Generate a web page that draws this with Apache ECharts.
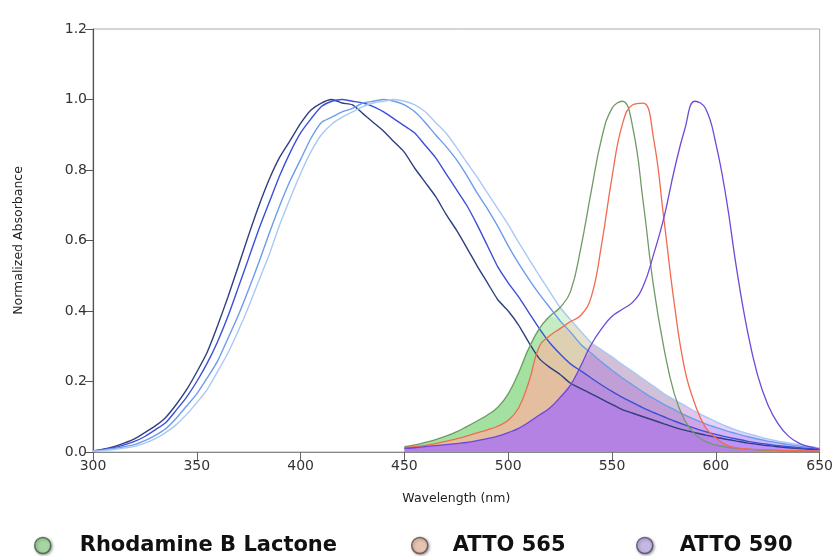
<!DOCTYPE html>
<html><head><meta charset="utf-8">
<script src="https://cdn.jsdelivr.net/npm/echarts@6/dist/echarts.min.js"></script>
<style>html,body{margin:0;padding:0;background:#fff}#c{width:836px;height:556px}</style>
</head><body><div id="c"></div>
<script>
// wavelength grids (nm)
const blueWl = [];
for (let w = 300; w <= 650; w += 5) blueWl.push(w);
const dyeWl = [];
for (let w = 450; w <= 650; w += 5) dyeWl.push(w);

// four donor absorbance curves (300–650 nm, 5 nm steps)
const navy = [0.003,0.008,0.015,0.025,0.037,0.055,0.074,0.098,0.134,0.176,0.227,0.283,0.358,0.44,0.527,0.616,0.70,0.775,0.837,0.884,0.932,0.97,0.99,1.0,
  0.99,0.985,0.96,0.935,0.91,0.88,0.85,0.805,0.765,0.725,0.675,0.63,0.58,0.528,0.48,0.432,0.40,0.36,0.31,0.265,0.24,0.22,0.195,0.18,0.165,0.15,0.135,0.12,0.11,0.10,0.09,0.08,0.07,0.062,0.055,0.048,0.042,0.036,0.031,0.026,0.022,0.018,0.015,0.012,0.010,0.008,0.006];
const blue = [0.003,0.007,0.012,0.02,0.03,0.044,0.063,0.083,0.118,0.155,0.20,0.252,0.313,0.385,0.467,0.55,0.634,0.71,0.785,0.85,0.905,0.945,0.98,0.995,
  1.0,0.995,0.99,0.98,0.965,0.945,0.925,0.905,0.87,0.835,0.79,0.745,0.70,0.645,0.585,0.525,0.48,0.44,0.395,0.35,0.31,0.278,0.25,0.23,0.21,0.19,0.172,0.155,0.14,0.125,0.112,0.10,0.088,0.077,0.067,0.058,0.05,0.043,0.037,0.031,0.026,0.022,0.018,0.015,0.012,0.010,0.008];
const lightBlue = [0.003,0.006,0.01,0.015,0.021,0.032,0.047,0.066,0.095,0.13,0.165,0.21,0.258,0.322,0.388,0.462,0.54,0.622,0.70,0.77,0.83,0.89,0.935,0.95,
  0.965,0.975,0.99,0.995,1.0,0.995,0.985,0.965,0.935,0.90,0.867,0.83,0.785,0.735,0.69,0.64,0.585,0.535,0.49,0.448,0.41,0.372,0.34,0.305,0.28,0.255,0.232,0.21,0.19,0.17,0.152,0.135,0.12,0.105,0.092,0.08,0.07,0.06,0.052,0.044,0.037,0.031,0.026,0.021,0.017,0.014,0.011];
const lightest = [0.002,0.004,0.007,0.011,0.016,0.025,0.038,0.055,0.077,0.106,0.14,0.177,0.228,0.281,0.344,0.413,0.488,0.562,0.646,0.72,0.79,0.852,0.90,0.93,
  0.95,0.965,0.98,0.99,0.995,1.0,0.995,0.985,0.965,0.935,0.905,0.865,0.822,0.78,0.735,0.69,0.645,0.595,0.547,0.50,0.455,0.41,0.375,0.342,0.31,0.29,0.27,0.248,0.228,0.207,0.187,0.165,0.148,0.132,0.115,0.10,0.086,0.073,0.062,0.053,0.045,0.037,0.031,0.026,0.021,0.016,0.011];

// acceptor dye absorbance (450–650 nm, 5 nm steps)
const rhodamine = [0.015,0.02,0.027,0.035,0.045,0.057,0.072,0.088,0.105,0.127,0.165,0.225,0.295,0.35,0.385,0.41,0.455,0.58,0.74,0.89,0.975,0.995,0.92,0.71,0.47,0.295,0.165,0.09,0.05,0.03,0.02,0.014,0.01,0.008,0.006,0.005,0.004,0.003,0.002,0.002,0.001];
const atto565 = [0.012,0.015,0.019,0.024,0.03,0.037,0.045,0.054,0.063,0.073,0.09,0.125,0.2,0.3,0.33,0.35,0.37,0.388,0.44,0.59,0.78,0.93,0.985,0.99,0.89,0.66,0.42,0.235,0.135,0.07,0.04,0.02,0.012,0.009,0.007,0.006,0.005,0.004,0.004,0.003,0.003];
const atto590 = [0.01,0.012,0.015,0.018,0.021,0.024,0.027,0.032,0.038,0.045,0.055,0.067,0.085,0.105,0.125,0.155,0.19,0.245,0.305,0.35,0.385,0.405,0.425,0.47,0.56,0.665,0.80,0.915,0.995,0.975,0.875,0.72,0.52,0.35,0.22,0.135,0.08,0.045,0.025,0.015,0.008];

const xTicks = [300,350,400,450,500,550,600,650];
const yTicks = [0,0.2,0.4,0.6,0.8,1.0,1.2];
const legendNames = ['Rhodamine B Lactone','ATTO 565','ATTO 590'];

const blues = [
  {data: navy, color: '#2f3f80'},
  {data: blue, color: '#3b4fd8'},
  {data: lightBlue, color: '#6d9cec'},
  {data: lightest, color: '#a9c9f4'}
];
const pair = (xs, ys) => xs.map((x, i) => [x, ys[i]]);
const overlap = (dye, donor) => dyeWl.map((w, j) => [w, Math.min(dye[j], donor[blueWl.indexOf(w)])]);

function fills(dye, color) {
  return blues.map(b => ({
    type: 'line', data: overlap(dye, b.data), showSymbol: false, silent: true,
    smooth: 0.3, lineStyle: {width: 0}, areaStyle: {color: color, opacity: 1}
  }));
}
function blueLine(b) {
  return {type: 'line', data: pair(blueWl, b.data), showSymbol: false, silent: true, smooth: 0.2,
    lineStyle: {color: b.color, width: 1.4}};
}
function dyeLine(d, c) {
  return {type: 'line', data: pair(dyeWl, d), showSymbol: false, silent: true, smooth: 0.45,
    lineStyle: {color: c, width: 1.3}};
}

const series = [].concat(
  fills(rhodamine, 'rgba(125,212,118,0.26)'),
  fills(atto565, 'rgba(250,180,160,0.28)'),
  blues.map(blueLine),
  [dyeLine(rhodamine, '#6f9a66'), dyeLine(atto565, '#f26a4f')],
  fills(atto590, 'rgba(166,112,250,0.30)'),
  [dyeLine(atto590, '#7048d8')],
  [
    {type: 'scatter', name: legendNames[0], data: []},
    {type: 'scatter', name: legendNames[1], data: []},
    {type: 'scatter', name: legendNames[2], data: []}
  ]
);

const legendColors = [['#a8e2a4','#3e5c3e'],['#f7ccb4','#5a4840'],['#cdbcf3','#4a4868']];
const legendLeft = [29, 406, 631];
const legendPad = [24, 20, 22];
const legends = legendNames.map((n, i) => ({
  left: legendLeft[i], top: 530, itemWidth: 16, itemHeight: 16, selectedMode: false,
  data: [{name: n, icon: 'circle', itemStyle: {color: legendColors[i][0], borderColor: legendColors[i][1], borderWidth: 1.5,
    shadowBlur: 3, shadowColor: 'rgba(0,0,0,0.45)', shadowOffsetX: 1, shadowOffsetY: 1}}],
  textStyle: {fontFamily: 'DejaVu Sans', fontWeight: 'bold', fontSize: 21, color: '#111', padding: [0,0,0,legendPad[i]]}
}));

const chart = echarts.init(document.getElementById('c'), null, {renderer: 'canvas'});
chart.setOption({
  animation: false,
  backgroundColor: '#fff',
  grid: {left: 93, right: 15, top: 29, bottom: 104, show: true, borderColor: '#aaa', borderWidth: 1},
  legend: legends,
  xAxis: {
    type: 'value', min: xTicks[0], max: xTicks[xTicks.length - 1], interval: 50,
    name: 'Wavelength (nm)', nameLocation: 'middle', nameGap: 40,
    nameTextStyle: {fontFamily: 'DejaVu Sans', fontSize: 12.5, color: '#222'},
    axisLine: {lineStyle: {color: '#888', width: 1.2}},
    axisTick: {inside: false, length: 9, lineStyle: {color: '#666'}},
    axisLabel: {fontFamily: 'DejaVu Sans', fontSize: 14, color: '#333', margin: 7},
    splitLine: {show: false}
  },
  yAxis: {
    type: 'value', min: yTicks[0], max: yTicks[yTicks.length - 1], interval: 0.2,
    name: 'Normalized Absorbance', nameLocation: 'middle', nameGap: 68,
    nameTextStyle: {fontFamily: 'DejaVu Sans', fontSize: 12.5, color: '#222'},
    axisLine: {lineStyle: {color: '#555', width: 1.2}},
    axisTick: {inside: false, length: 8, lineStyle: {color: '#555'}},
    axisLabel: {fontFamily: 'DejaVu Sans', fontSize: 14, color: '#333', margin: 6, formatter: v => v.toFixed(1)},
    splitLine: {show: false}
  },
  series: series
});
</script></body></html>
